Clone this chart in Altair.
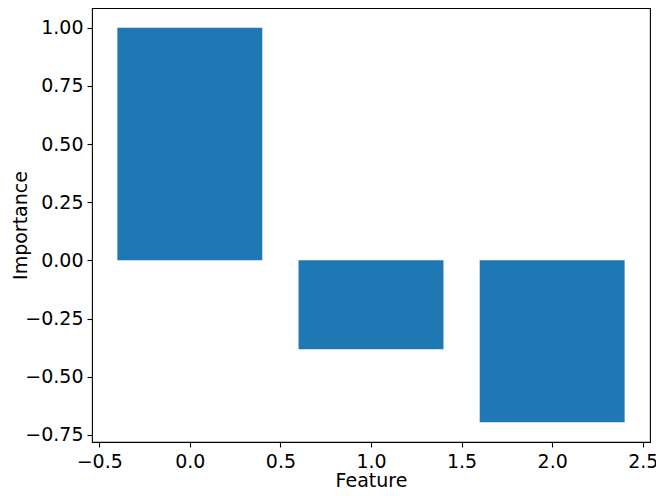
import altair as alt
import pandas as pd

features = [0, 1, 2]
importance = [1.0, -0.382, -0.696]

x_ticks = [-0.5, 0.0, 0.5, 1.0, 1.5, 2.0, 2.5]
y_ticks = [-0.75, -0.5, -0.25, 0.0, 0.25, 0.5, 0.75, 1.0]

df = pd.DataFrame({"feature": features, "importance": importance})

FONT = "DejaVu Sans"
FS = 19

chart = (
    alt.Chart(df)
    .transform_calculate(x0="datum.feature - 0.4", x1="datum.feature + 0.4", base="0")
    .mark_bar(color="#1f77b4")
    .encode(
        x=alt.X(
            "x0:Q",
            scale=alt.Scale(domain=[-0.54, 2.54], nice=False, zero=False),
            axis=alt.Axis(
                values=x_ticks, format=".1f", title="Feature",
                labelBaseline="alphabetic", labelPadding=20,
                titleBaseline="alphabetic", titleX=279, titleY=44, titleAlign="center",
            ),
        ),
        x2="x1:Q",
        y=alt.Y(
            "importance:Q",
            scale=alt.Scale(domain=[-0.7808, 1.0848], nice=False, zero=False),
            axis=alt.Axis(
                values=y_ticks, format=".2f", title="Importance",
                labelPadding=4,
                titleAngle=270, titleBaseline="alphabetic", titleAlign="center",
                titleX=-66, titleY=217,
            ),
        ),
        y2="base:Q",
    )
    .properties(
        width=558,
        height=434,
        autosize=alt.AutoSizeParams(type="none"),
        padding={"left": 84, "top": 0, "right": 6, "bottom": 48},
    )
    .configure_view(stroke="#000000", strokeWidth=1.1)
    .configure_axis(
        domain=False,
        grid=False,
        ticks=True,
        tickSize=5,
        tickColor="#000000",
        tickWidth=1.1,
        labelFont=FONT,
        labelFontSize=FS,
        labelColor="#000000",
        titleFont=FONT,
        titleFontSize=FS,
        titleFontWeight="normal",
        titleColor="#000000",
        labelFlush=False,
        labelOverlap=False,
    )
)

chart.save("out.html", embed_options={"renderer": "svg", "actions": False})
